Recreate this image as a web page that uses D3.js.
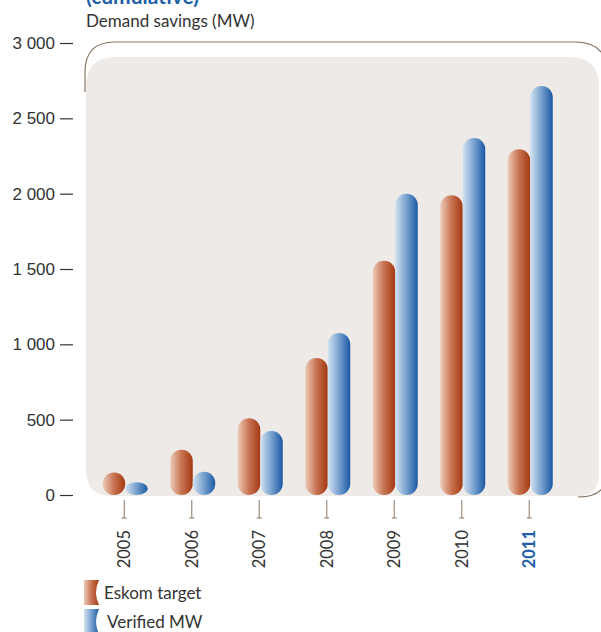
<!DOCTYPE html>
<html>
<head>
<meta charset="utf-8">
<script src="https://cdn.jsdelivr.net/npm/d3@7"></script>
<style>
  body { margin: 0; background: #fff; }
  svg { display: block; font-family: Lato, 'Open Sans', sans-serif; }
  .axis text { font-size: 17px; fill: #333; }
</style>
</head>
<body>
<svg width="601" height="632"></svg>
<script>
const years = ['2005', '2006', '2007', '2008', '2009', '2010', '2011'];
const eskomTarget = [150, 300, 510, 910, 1555, 1990, 2295];
const verifiedMW = [85, 155, 425, 1075, 2000, 2370, 2715];
const yTicks = [0, 500, 1000, 1500, 2000, 2500, 3000];
const seriesNames = ['Eskom target', 'Verified MW'];

const svg = d3.select('svg');

const data = years.map((y, i) => ({ year: y, values: [eskomTarget[i], verifiedMW[i]] }));

const yScale = d3.scaleLinear().domain([0, 3000]).range([495, 43]);
const xScale = d3.scaleBand().domain(years).range([90.5, 563]).padding(0);
const half = xScale.bandwidth() / 2;
const xSub = d3.scaleBand().domain(seriesNames).range([half - 21.5, half + 23.5]);

// gradients
const defs = svg.append('defs');
const grads = [
  { id: 'gOrange', stops: ['#eccbb8', '#c87352', '#a33912'] },
  { id: 'gBlue', stops: ['#d3e2f1', '#77a1cf', '#1a58a3'] }
];
grads.forEach(g => {
  const lg = defs.append('linearGradient').attr('id', g.id)
    .attr('x1', 0).attr('x2', 1).attr('y1', 0).attr('y2', 0);
  lg.append('stop').attr('offset', '0%').attr('stop-color', g.stops[0]);
  lg.append('stop').attr('offset', '50%').attr('stop-color', g.stops[1]);
  lg.append('stop').attr('offset', '100%').attr('stop-color', g.stops[2]);
});

// title
svg.append('text')
  .attr('x', 86).attr('y', 4)
  .attr('font-size', 21).attr('font-weight', 'bold').attr('fill', '#1f5fa8')
  .text('(cumulative)');
svg.append('text')
  .attr('x', 86).attr('y', 27)
  .attr('font-size', 17).attr('fill', '#333')
  .text('Demand savings (MW)');

// outline frame (open path)
svg.append('path')
  .attr('d', 'M85,92 L85,72 Q85,42 115,42 L575,42 Q606,42 608,72 L608,470 Q608,497 578,497')
  .attr('fill', 'none').attr('stroke', '#8a7663').attr('stroke-width', 1.2);

// panel
svg.append('path')
  .attr('d', 'M86,87 Q86,57 116,57 L569,57 Q599,57 599,87 L599,474 Q599,496 577,496 L112,496 Q86,496 86,470 Z')
  .attr('fill', '#eeeae7');

// y axis
const yAxis = d3.axisLeft(yScale)
  .tickValues(yTicks)
  .tickFormat(d => d3.format(',')(d).replace(',', ' '))
  .tickSize(13)
  .tickPadding(5);
const yAxisG = svg.append('g').attr('class', 'axis')
  .attr('transform', 'translate(73,0)')
  .call(yAxis);
yAxisG.select('.domain').remove();
yAxisG.selectAll('.tick line').attr('stroke', '#333').attr('stroke-width', 1.2);

// bars
const groups = svg.append('g').selectAll('g').data(data)
  .enter().append('g')
  .attr('transform', d => `translate(${xScale(d.year)},0)`);

groups.selectAll('rect')
  .data(d => d.values.map((v, i) => ({ name: seriesNames[i], value: v, i })))
  .enter().append('rect')
  .attr('x', d => xSub(d.name))
  .attr('width', xSub.bandwidth())
  .attr('y', d => yScale(d.value))
  .attr('height', d => yScale(0) - yScale(d.value))
  .attr('rx', xSub.bandwidth() / 2)
  .attr('ry', d => Math.min(xSub.bandwidth() / 2, (yScale(0) - yScale(d.value)) / 2))
  .attr('fill', d => d.i === 0 ? 'url(#gOrange)' : 'url(#gBlue)');

// x ticks
const xTicks = svg.append('g').selectAll('g').data(years)
  .enter().append('g')
  .attr('transform', d => `translate(${xScale(d) + half},0)`);
xTicks.append('line')
  .attr('x1', 0).attr('x2', 0).attr('y1', 500).attr('y2', 518)
  .attr('stroke', '#9b8b7e').attr('stroke-width', 1.2);
xTicks.append('line')
  .attr('x1', -2.5).attr('x2', 2.5).attr('y1', 518).attr('y2', 518)
  .attr('stroke', '#9b8b7e').attr('stroke-width', 1.2);
xTicks.append('text')
  .attr('transform', 'translate(0,530) rotate(-90)')
  .attr('text-anchor', 'end')
  .attr('dy', '0.35em')
  .attr('font-size', 16.5)
  .attr('font-weight', d => d === '2011' ? 'bold' : 'normal')
  .attr('fill', d => d === '2011' ? '#1f5fa8' : '#333')
  .text(d => d);

// legend
const legend = svg.append('g').selectAll('g').data(seriesNames)
  .enter().append('g')
  .attr('transform', (d, i) => `translate(84,${580 + i * 29})`);
legend.append('path')
  .attr('d', 'M0,0 L15,0 Q9,12.5 15,25 L0,25 Z')
  .attr('fill', (d, i) => i === 0 ? 'url(#gOrange)' : 'url(#gBlue)');
legend.append('text')
  .attr('x', (d, i) => i === 0 ? 20 : 23)
  .attr('y', 19)
  .attr('font-size', 17)
  .attr('fill', '#333')
  .text(d => d);
</script>
</body>
</html>
